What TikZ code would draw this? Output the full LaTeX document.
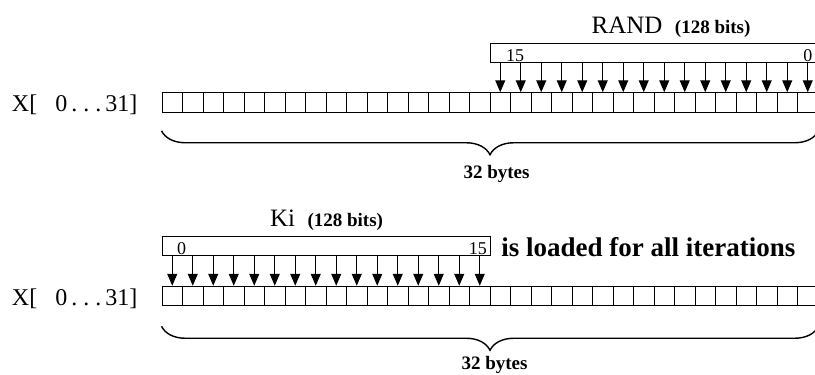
\documentclass[tikz,border=0pt]{standalone}
\usepackage{fontspec}
\setmainfont{Liberation Serif}
\usetikzlibrary{arrows.meta, positioning, decorations.pathreplacing}

\begin{document}
\begin{tikzpicture}[
  x=1pt, y=-1pt,
  cell/.style={draw, minimum width=20.5pt, minimum height=19.5pt, inner sep=0pt, line width=1pt},
  regbox/.style={draw, minimum height=19pt, inner sep=0pt, line width=1.1pt, anchor=north west},
  bitarrow/.style={-{Triangle[length=12pt, width=10pt]}, line width=1pt},
  bytebrace/.style={decorate, decoration={brace, mirror, amplitude=24pt}, line width=1.4pt},
  title/.style={font=\fontsize{25}{29}\selectfont, inner sep=0pt, anchor=base},
  bitno/.style={font=\fontsize{18}{20}\selectfont, inner sep=0pt},
  rowlbl/.style={font=\fontsize{24}{28}\selectfont, inner sep=0pt},
  bytelbl/.style={font=\bfseries\fontsize{19}{22}\selectfont, inner sep=0pt, anchor=base},
  note/.style={font=\bfseries\fontsize{27}{31}\selectfont, inner sep=0pt}
]
\useasboundingbox (0,0) rectangle (815,375);
\clip (0,0) rectangle (815,375);
% the two 32-byte registers
\foreach \i in {0,...,31} {
  \node[cell] (a\i) at ({172.25+20.5*\i},102.5) {};
  \node[cell] (b\i) at ({172.25+20.5*\i},296) {};
}
\node[rowlbl, left=24pt of a0.south west, anchor=base east, yshift=1pt] (xa) {X[~~~0\,.~.~.\,31]};
\node[rowlbl, left=24pt of b0.south west, anchor=base east, yshift=1pt] (xb) {X[~~~0\,.~.~.\,31]};

% RAND
\node[regbox, minimum width=345pt] (rand) at (490,43) {};
\node[title, xshift=8pt, yshift=10pt] (randlbl) at (rand.north) {RAND~~{\bfseries\fontsize{19}{22}\selectfont (128 bits)}};
\node[bitno, anchor=base west, xshift=16pt, yshift=2pt] (r15) at (rand.south west) {15};
\node[bitno, anchor=base, yshift=2pt] (r0) at (rand.south -| a31) {0};
\foreach \i in {16,...,31}
  \draw[bitarrow] (rand.south -| a\i) -- (a\i.north);

% Ki
\node[regbox, minimum width=328pt] (ki) at (162,236) {};
\node[title, yshift=10pt] (kilbl) at (ki.north) {Ki~~{\bfseries\fontsize{19}{22}\selectfont (128 bits)}};
\node[bitno, anchor=base west, xshift=15pt, yshift=2pt] (k0) at (ki.south west) {0};
\node[bitno, anchor=base east, xshift=-4pt, yshift=2pt] (k15) at (ki.south east) {15};
\foreach \i in {0,...,15}
  \draw[bitarrow] (ki.south -| b\i) -- (b\i.north);
\node[note, right=10pt of ki.south east, anchor=base west] (loaded) {is loaded for all iterations};

% braces
\draw[bytebrace] ([yshift=-18pt]a0.south west) -- ([yshift=-18pt]a31.south east);
\node[bytelbl, xshift=6pt] (abytes) at ([yshift=-66pt]a15.south east) {32 bytes};
\draw[bytebrace] ([yshift=-20pt]b0.south west) -- ([yshift=-20pt]b31.south east);
\node[bytelbl, xshift=4pt] (bbytes) at ([yshift=-63pt]b15.south east) {32 bytes};
\end{tikzpicture}
\end{document}
